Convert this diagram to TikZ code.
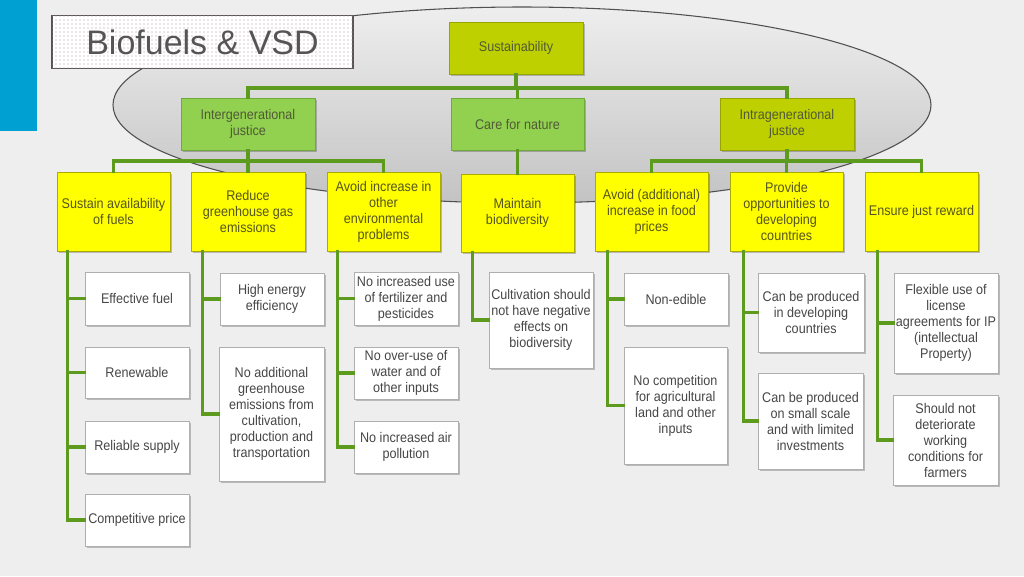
\documentclass[tikz,border=0pt]{standalone}
\usepackage{fontspec}
\setmainfont{Liberation Sans}
\newfontfamily\nf[FakeStretch=0.9]{Liberation Sans}
\usetikzlibrary{shadows,patterns}
\definecolor{bg}{HTML}{EEEEEE}
\definecolor{bluebar}{HTML}{00A0D2}
\definecolor{conn}{RGB}{92,155,30}
\definecolor{ygreen}{RGB}{191,208,0}
\definecolor{ygreenB}{RGB}{150,165,0}
\definecolor{lgreen}{HTML}{92D050}
\definecolor{lgreenB}{RGB}{110,170,60}
\definecolor{yel}{HTML}{FFFF00}
\definecolor{yelB}{RGB}{170,170,0}
\definecolor{txtY}{RGB}{85,85,30}
\definecolor{txtG}{RGB}{80,90,55}
\definecolor{txtW}{RGB}{70,70,70}
\definecolor{wB}{RGB}{175,175,175}
\definecolor{titleG}{HTML}{555555}
\definecolor{dotc}{RGB}{185,135,160}
\newcommand\mybox[7]{\node[#6,minimum width={(#4-#2)*0.75pt},minimum height={(#5-#3)*0.75pt}] (#1) at ({(#2+#4)/2},{(#3+#5)/2}) {#7};}
\tikzset{
  base/.style={draw,align=center,inner sep=0pt,line width=0.6pt,
    font=\nf\fontsize{10.5}{12}\selectfont,
    drop shadow={shadow xshift=1.4pt,shadow yshift=-1.4pt,fill=black,opacity=0.22}},
  ygbox/.style={base,fill=ygreen,draw=ygreenB,text=txtG},
  lgbox/.style={base,fill=lgreen,draw=lgreenB,text=txtG},
  ybox/.style={base,fill=yel,draw=yelB,text=txtY},
  wbox/.style={base,fill=white,draw=wB,text=txtW},
  cn/.style={draw=conn,line width=2.3pt,line cap=rect}
}
\begin{document}
\begin{tikzpicture}[x=0.75pt,y=-0.75pt]
\useasboundingbox (0,0) rectangle (1024,576);
\fill[bg] (0,0) rectangle (1024,576);
\fill[bluebar] (0,0) rectangle (37,131);
% ellipse
\shade[top color={rgb,255:red,238;green,238;blue,238},bottom color={rgb,255:red,195;green,195;blue,195}]
  (522,105) ellipse [x radius=409, y radius=98];
\draw[draw={rgb,255:red,80;green,80;blue,80},line width=0.8pt] (522,105) ellipse [x radius=409, y radius=98];
% title
\node[draw=titleG,line width=1.1pt,fill=white,postaction={pattern=dots,pattern color=dotc},
  minimum width={301*0.75pt},minimum height={53*0.75pt},inner sep=0pt,text=titleG,
  font=\fontsize{25.5}{28}\selectfont] (title) at (202.5,42) {Biofuels \& VSD};
% level 1
\mybox{sus}{449}{22}{583}{74}{ygbox}{Sustainability}
\mybox{ig}{181}{98}{315}{150}{lgbox}{Intergenerational\\justice}
\mybox{cfn}{451}{98}{584}{150}{lgbox}{Care for nature}
\mybox{it}{720}{98}{854}{150}{ygbox}{Intragenerational\\justice}
% level 2
\mybox{sa}{57}{172}{170}{251}{ybox}{Sustain availability\\of fuels}
\mybox{rg}{191}{172}{305}{251}{ybox}{Reduce\\greenhouse gas\\emissions}
\mybox{ai}{327}{172}{440}{251}{ybox}{Avoid increase in\\other\\environmental\\problems}
\mybox{mb}{461}{174}{574}{252}{ybox}{Maintain\\biodiversity}
\mybox{af}{595}{172}{708}{251}{ybox}{Avoid (additional)\\increase in food\\prices}
\mybox{po}{730}{172}{843}{251}{ybox}{Provide\\opportunities to\\developing\\countries}
\mybox{ej}{865}{172}{978}{251}{ybox}{Ensure just reward}
% level 3
\mybox{ef}{85}{272}{189}{325}{wbox}{Effective fuel}
\mybox{rn}{85}{347}{189}{398}{wbox}{Renewable}
\mybox{rs}{85}{421}{189}{473}{wbox}{Reliable supply}
\mybox{cp}{85}{494}{189}{546}{wbox}{Competitive price}
\mybox{he}{220}{273}{324}{325}{wbox}{High energy\\efficiency}
\mybox{na}{219}{347}{324}{481}{wbox}{No additional\\greenhouse\\emissions from\\cultivation,\\production and\\transportation}
\mybox{nu}{354}{272}{458}{325}{wbox}{No increased use\\of fertilizer and\\pesticides}
\mybox{no}{354}{347}{458}{399}{wbox}{No over-use of\\water and of\\other inputs}
\mybox{np}{354}{421}{458}{473}{wbox}{No increased air\\pollution}
\mybox{cv}{489}{272}{593}{368}{wbox}{Cultivation should\\not have negative\\effects on\\biodiversity}
\mybox{ne}{624}{273}{728}{325}{wbox}{Non-edible}
\mybox{nc}{624}{347}{727}{464}{wbox}{No competition\\for agricultural\\land and other\\inputs}
\mybox{cd}{758}{273}{864}{352}{wbox}{Can be produced\\in developing\\countries}
\mybox{cl}{758}{373}{863}{469}{wbox}{Can be produced\\on small scale\\and with limited\\investments}
\mybox{fl}{894}{273}{998}{373}{wbox}{Flexible use of\\license\\agreements for IP\\(intellectual\\Property)}
\mybox{sn}{893}{395}{998}{485}{wbox}{Should not\\deteriorate\\working\\conditions for\\farmers}
% connectors level 1
\coordinate (h1) at (516,88);
\draw[cn] (sus.south) -- (sus.south |- h1);
\draw[cn] (ig.north) |- (h1) -| (it.north);
\draw[cn] (cfn.north) -- (cfn.north |- h1);
% connectors level 2
\coordinate (h2) at (248,161);
\coordinate (h3) at (787,161);
\draw[cn] (ig.south) -- (ig.south |- h2);
\draw[cn] (sa.north) |- (h2) -| (ai.north);
\draw[cn] (rg.north) -- (rg.north |- h2);
\draw[cn] (cfn.south) -- (mb.north);
\draw[cn] (it.south) -- (it.south |- h3);
\draw[cn] (af.north) |- (h3) -| (ej.north);
\draw[cn] (po.north) -- (po.north |- h3);
% connectors level 3
\coordinate (s1) at ([xshift=8.25pt]sa.south west);
\draw[cn] (s1) |- (cp.west);
\draw[cn] (s1 |- ef.west) -- (ef.west);
\draw[cn] (s1 |- rn.west) -- (rn.west);
\draw[cn] (s1 |- rs.west) -- (rs.west);
\coordinate (s2) at ([xshift=9pt]rg.south west);
\draw[cn] (s2) |- (na.west);
\draw[cn] (s2 |- he.west) -- (he.west);
\coordinate (s3) at ([xshift=8.25pt]ai.south west);
\draw[cn] (s3) |- (np.west);
\draw[cn] (s3 |- nu.west) -- (nu.west);
\draw[cn] (s3 |- no.west) -- (no.west);
\coordinate (s4) at ([xshift=9pt]mb.south west);
\draw[cn] (s4) |- (cv.west);
\coordinate (s5) at ([xshift=9.75pt]af.south west);
\draw[cn] (s5) |- (nc.west);
\draw[cn] (s5 |- ne.west) -- (ne.west);
\coordinate (s6) at ([xshift=10.5pt]po.south west);
\draw[cn] (s6) |- (cl.west);
\draw[cn] (s6 |- cd.west) -- (cd.west);
\coordinate (s7) at ([xshift=9.75pt]ej.south west);
\draw[cn] (s7) |- (sn.west);
\draw[cn] (s7 |- fl.west) -- (fl.west);
\end{tikzpicture}
\end{document}
